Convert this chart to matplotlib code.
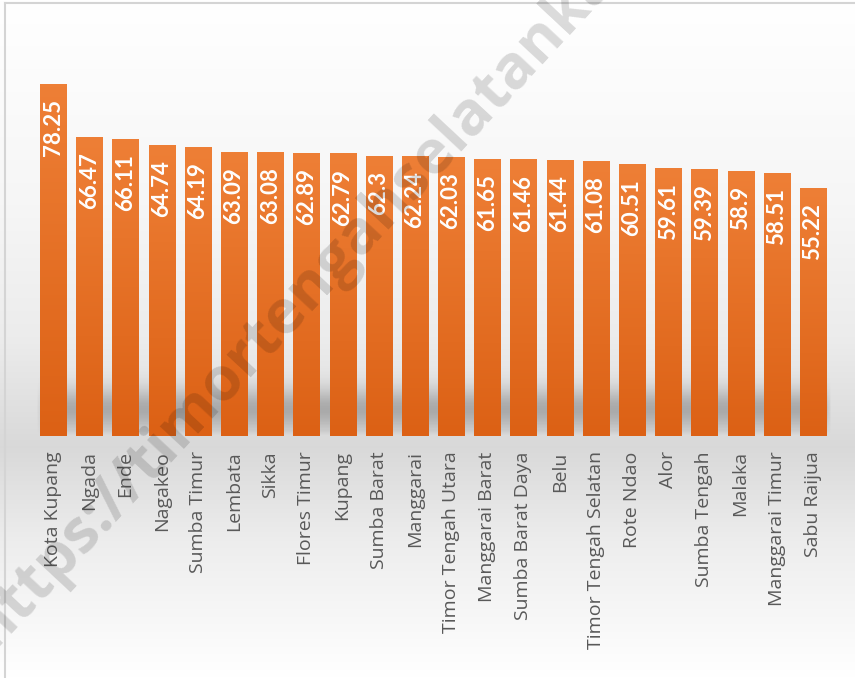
import numpy as np
import matplotlib
matplotlib.use("Agg")
from matplotlib import pyplot as plt
from matplotlib.colors import LinearSegmentedColormap
from matplotlib.lines import Line2D

# data
daerah = ["Kota Kupang", "Ngada", "Ende", "Nagakeo", "Sumba Timur", "Lembata", "Sikka",
          "Flores Timur", "Kupang", "Sumba Barat", "Manggarai", "Timor Tengah Utara",
          "Manggarai Barat", "Sumba Barat Daya", "Belu", "Timor Tengah Selatan",
          "Rote Ndao", "Alor", "Sumba Tengah", "Malaka", "Manggarai Timur", "Sabu Raijua"]
nilai = [78.25, 66.47, 66.11, 64.74, 64.19, 63.09, 63.08, 62.89, 62.79, 62.3, 62.24,
         62.03, 61.65, 61.46, 61.44, 61.08, 60.51, 59.61, 59.39, 58.9, 58.51, 55.22]
label_nilai = ["78.25", "66.47", "66.11", "64.74", "64.19", "63.09", "63.08", "62.89",
               "62.79", "62.3", "62.24", "62.03", "61.65", "61.46", "61.44", "61.08",
               "60.51", "59.61", "59.39", "58.9", "58.51", "55.22"]

fig = plt.figure(figsize=(8.55, 6.78), dpi=100)

# background gradient of the chart area
bg = fig.add_axes([0, 0, 1, 1], zorder=-10)
yy = np.linspace(0, 1, 400)
stops_y = [0.0, 0.3, 0.5, 0.66, 0.8, 1.0]
stops_v = [1.0, 0.965, 0.925, 0.85, 0.93, 1.0]
g = np.interp(yy, stops_y, stops_v)
bg_img = np.stack([g, g, g], axis=-1)[:, None, :].repeat(2, axis=1)
bg.imshow(bg_img, aspect="auto", extent=[0, 1, 0, 1], origin="upper")
bg.set_xlim(0, 1)
bg.set_ylim(0, 1)
bg.axis("off")

# frame lines (top and left)
fig.add_artist(Line2D([5 / 855, 5 / 855], [0, 1 - 3 / 678], color="#d4d4d4", lw=1.5))
fig.add_artist(Line2D([5 / 855, 1], [1 - 3 / 678, 1 - 3 / 678], color="#d4d4d4", lw=1.5))

ax = fig.add_axes([35 / 855, 242 / 678, 796 / 855, 405 / 678])
ax.set_facecolor("none")
x = np.arange(len(daerah))
w = 0.72

# soft shadow at the foot of the bars
sh_y = np.linspace(0, 17, 200)
prof = np.exp(-((sh_y - 6.0) / 4.5) ** 2) * 0.24
prof[sh_y < 1.0] *= sh_y[sh_y < 1.0]
sx = np.linspace(0, 1, 300)
hfade = np.clip(sx / 0.02, 0, 1) * np.clip((1 - sx) / 0.01, 0, 1)
alpha = prof[:, None] * hfade[None, :]
shadow = np.zeros((200, 300, 4))
shadow[..., 3] = alpha
ax.imshow(shadow, extent=[-0.5, 21.55, 0, 17], origin="lower", aspect="auto", zorder=1)

orange = LinearSegmentedColormap.from_list("og", ["#dc6115", "#ee7f36"])
grad = np.linspace(0, 1, 100)[:, None]
bars = ax.bar(x, nilai, width=w, color="none", zorder=2)
for b in bars:
    x0 = b.get_x()
    im = ax.imshow(grad, extent=[x0, x0 + b.get_width(), 0, b.get_height()],
                   origin="lower", aspect="auto", cmap=orange, zorder=2)
    im.set_clip_path(b)

for xi, v, t in zip(x, nilai, label_nilai):
    ax.annotate(t, (xi, v), xytext=(0, -11), textcoords="offset points",
                rotation=90, ha="center", va="top", color="white",
                fontsize=16, fontweight="bold", family="Lato", zorder=4)

ax.set_xlim(-0.5, 21.5)
ax.set_ylim(0, 90)
ax.set_xticks(x)
ax.set_xticklabels(daerah, rotation=90, fontsize=14, family="Open Sans", color="#595959")
ax.tick_params(axis="x", length=0, pad=11)
ax.set_yticks([])
for s in ax.spines.values():
    s.set_visible(False)

# watermark
fig.text(405 / 855, 1 - 184 / 678, "https://timortengahselatankab.bps.go.id",
         rotation=47, rotation_mode="anchor", ha="center", va="center",
         fontsize=44, fontweight="bold", family="Open Sans", color="black",
         alpha=0.14, zorder=20)

fig.savefig("out.png", dpi=100)
